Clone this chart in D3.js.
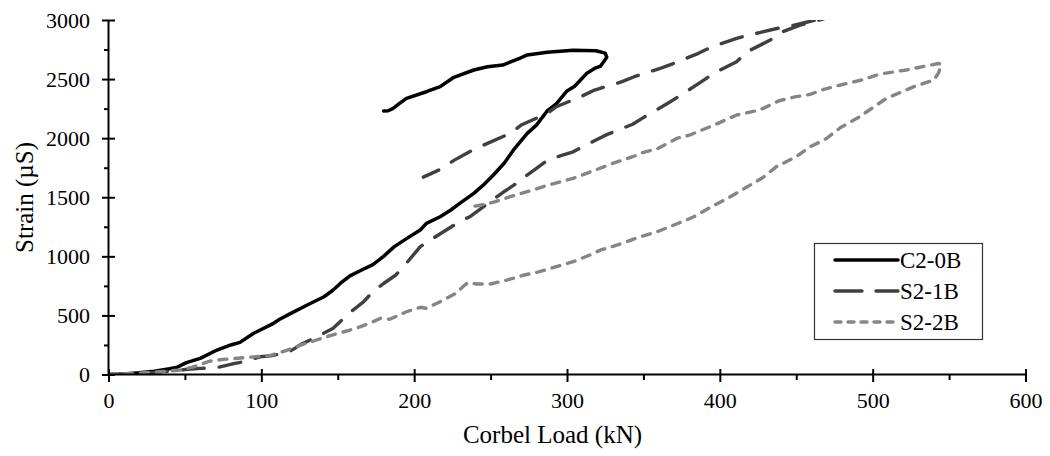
<!DOCTYPE html>
<html>
<head>
<meta charset="utf-8">
<script src="https://cdn.jsdelivr.net/npm/d3@7/dist/d3.min.js"></script>
<style>
  html, body { margin: 0; padding: 0; background: #fff; }
  svg { display: block; }
  text { font-family: "Liberation Serif", "Times New Roman", serif; fill: #000; }
</style>
</head>
<body>
<svg id="chart" width="1050" height="456"></svg>
<script>
// ---- Data (Corbel Load kN, Strain µS) ----
const seriesNames = ["C2-0B", "S2-1B", "S2-2B"];

const c20b = [
  [0,0],[10,5],[20,15],[30,28],[40,48],[45,62],[51,100],[60,137],[71,207],[80,250],[86,272],
  [95,349],[108,433],[112,467],[119,515],[130,588],[141,658],[147,715],[152,775],[158,835],
  [165,880],[173,930],[180,1000],[187,1082],[195,1150],[204,1223],[208,1279],[217,1335],
  [224,1392],[230,1450],[239,1533],[245,1600],[252,1690],[259,1790],[265,1900],[274,2041],
  [280,2110],[287,2230],[293,2290],[300,2400],[305,2440],[313,2549],[318,2590],[322,2610],
  [324,2647],[326,2685],[325,2720],[319,2740],[304,2744],[287,2727],[274,2704],[269,2676],
  [258,2619],[248,2605],[239,2577],[226,2515],[217,2436],[208,2393],[195,2337],[190,2290],
  [186,2250],[183,2232],[180,2230]
];

const s21b = [
  [0,0],[10,3],[20,10],[30,18],[40,28],[50,42],[60,52],[70,55],[82,92],[90,112],[99,150],
  [106,158],[113,175],[119,198],[126,255],[135,310],[147,391],[154,476],[160,545],[167,616],
  [173,701],[180,770],[188,842],[194,927],[204,1082],[214,1166],[228,1279],[237,1340],
  [250,1465],[258,1540],[265,1600],[272,1669],[280,1745],[288,1820],[295,1848],[304,1885],
  [319,1985],[326,2030],[343,2118],[351,2182],[366,2295],[374,2360],[388,2478],[396,2549],
  [411,2647],[418,2732],[433,2830],[441,2900],[453,2958],[465,3000],[475,3035],
  [468,3015],[458,2985],[448,2955],[438,2930],[426,2893],[419,2873],[411,2845],[395,2774],
  [386,2718],[370,2633],[361,2591],[344,2520],[336,2478],[318,2407],[309,2351],[293,2266],
  [287,2210],[270,2111],[263,2041],[248,1956],[239,1905],[226,1812],[217,1735],[206,1670]
];

const s22b = [
  [0,0],[10,5],[20,12],[30,20],[40,30],[47,38],[55,62],[66,112],[75,128],[82,135],[97,151],
  [106,162],[112,185],[117,207],[126,250],[136,292],[148,340],[158,376],[165,405],[172,440],
  [178,476],[184,467],[195,531],[204,569],[208,560],[217,616],[228,692],[232,745],[235,777],
  [241,766],[250,766],[261,800],[272,842],[282,870],[293,912],[304,955],[315,1011],[322,1054],
  [333,1096],[339,1124],[348,1166],[359,1208],[370,1265],[378,1307],[383,1335],[396,1430],
  [405,1490],[418,1589],[428,1665],[437,1759],[450,1843],[459,1928],[466,1970],[470,1999],
  [479,2090],[490,2170],[494,2205],[509,2337],[527,2436],[540,2492],[543,2549],[545,2625],
  [543,2632],[535,2611],[522,2577],[505,2543],[492,2490],[479,2450],[468,2413],[459,2370],
  [450,2351],[439,2318],[426,2238],[411,2196],[396,2110],[380,2025],[372,1999],[359,1910],
  [350,1880],[343,1843],[330,1787],[317,1722],[304,1660],[295,1628],[287,1600],[274,1547],
  [263,1505],[252,1458],[242,1430],[235,1415]
];

const xTicks = [0, 100, 200, 300, 400, 500, 600];
const xMinorTicks = [50, 150, 250, 350, 450, 550];
const yTicks = [0, 500, 1000, 1500, 2000, 2500, 3000];
const yMinorTicks = [250, 750, 1250, 1750, 2250, 2750];

const xTitle = "Corbel Load (kN)";
const yTitle = "Strain (µS)";

// ---- Drawing ----
const svg = d3.select("#chart");
const x = d3.scaleLinear().domain([0, 600]).range([108.5, 1025.5]);
const y = d3.scaleLinear().domain([0, 3000]).range([374.5, 20]);

const styles = [
  { color: "#000000", dash: null, width: 3.5 },
  { color: "#404040", dash: "22,15", width: 3.4 },
  { color: "#858585", dash: "8,8", width: 3.4 }
];
const allSeries = [c20b, s21b, s22b];

svg.append("defs").append("clipPath").attr("id", "plotclip")
  .append("rect").attr("x", x(0)).attr("y", y(3000))
  .attr("width", x(600) - x(0)).attr("height", y(0) - y(3000));

const line = d3.line().x(d => x(d[0])).y(d => y(d[1]));

const plot = svg.append("g").attr("clip-path", "url(#plotclip)");
allSeries.forEach((data, i) => {
  const s = styles[i];
  plot.append("path")
    .datum(data)
    .attr("d", line)
    .attr("fill", "none")
    .attr("stroke", s.color)
    .attr("stroke-width", s.width)
    .attr("stroke-linejoin", "round")
    .attr("stroke-linecap", "round")
    .attr("stroke-dasharray", s.dash);
});

// Axes
const tickFont = 22;
const titleFont = 25;
const legendFont = 23;
const yAxisG = svg.append("g").attr("transform", `translate(${x(0)},0)`)
  .call(d3.axisLeft(y).tickValues(yTicks).tickSize(6.5).tickPadding(12).tickFormat(d3.format("d")));
const yMinorG = svg.append("g").attr("transform", `translate(${x(0)},0)`)
  .call(d3.axisLeft(y).tickValues(yMinorTicks).tickSize(4.5).tickFormat(""));
yAxisG.selectAll(".tick line").attr("x1", 6.5);

const xAxisG = svg.append("g").attr("transform", `translate(0,${y(0)})`)
  .call(d3.axisBottom(x).tickValues(xTicks).tickSize(7.5).tickPadding(10.5).tickFormat(d3.format("d")));
const xMinorG = svg.append("g").attr("transform", `translate(0,${y(0)})`)
  .call(d3.axisBottom(x).tickValues(xMinorTicks).tickSize(5.5).tickFormat(""));
xAxisG.selectAll(".tick line").attr("y1", -5.5);

[yAxisG, yMinorG, xAxisG, xMinorG].forEach(g => {
  g.selectAll(".domain").attr("stroke", "#000").attr("stroke-width", 2);
  g.selectAll(".tick line").attr("stroke", "#000").attr("stroke-width", 2);
  g.selectAll("text").style("font-family", '"Liberation Serif", "Times New Roman", serif')
    .style("font-size", tickFont + "px").attr("fill", "#000");
});
yAxisG.select(".domain").attr("d", `M0,${y(3000)}V${y(0)}`);
xAxisG.select(".domain").attr("d", `M${x(0)},0H${x(600)}`);
yMinorG.select(".domain").remove();
xMinorG.select(".domain").remove();

// Axis titles
svg.append("text")
  .attr("x", 552.5).attr("y", 442.5)
  .attr("text-anchor", "middle")
  .style("font-size", titleFont + "px")
  .text(xTitle);

svg.append("text")
  .attr("transform", "translate(33,197.5) rotate(-90)")
  .attr("text-anchor", "middle")
  .style("font-size", titleFont + "px")
  .text(yTitle);

// Legend
const legend = svg.append("g");
legend.append("rect")
  .attr("x", 814.5).attr("y", 243.5).attr("width", 168).attr("height", 96)
  .attr("fill", "#fff").attr("stroke", "#333").attr("stroke-width", 1.2);
const legendY = [260, 291, 322];
seriesNames.forEach((name, i) => {
  const s = styles[i];
  legend.append("line")
    .attr("x1", 835).attr("x2", 898)
    .attr("y1", legendY[i]).attr("y2", legendY[i])
    .attr("stroke", s.color).attr("stroke-width", s.width)
    .attr("stroke-linecap", "round")
    .attr("stroke-dasharray", i === 1 ? "27,14" : (i === 2 ? "6,7" : null));
  legend.append("text")
    .attr("x", 900).attr("y", legendY[i])
    .attr("dy", "0.35em")
    .style("font-size", legendFont + "px")
    .text(name);
});
</script>
</body>
</html>
